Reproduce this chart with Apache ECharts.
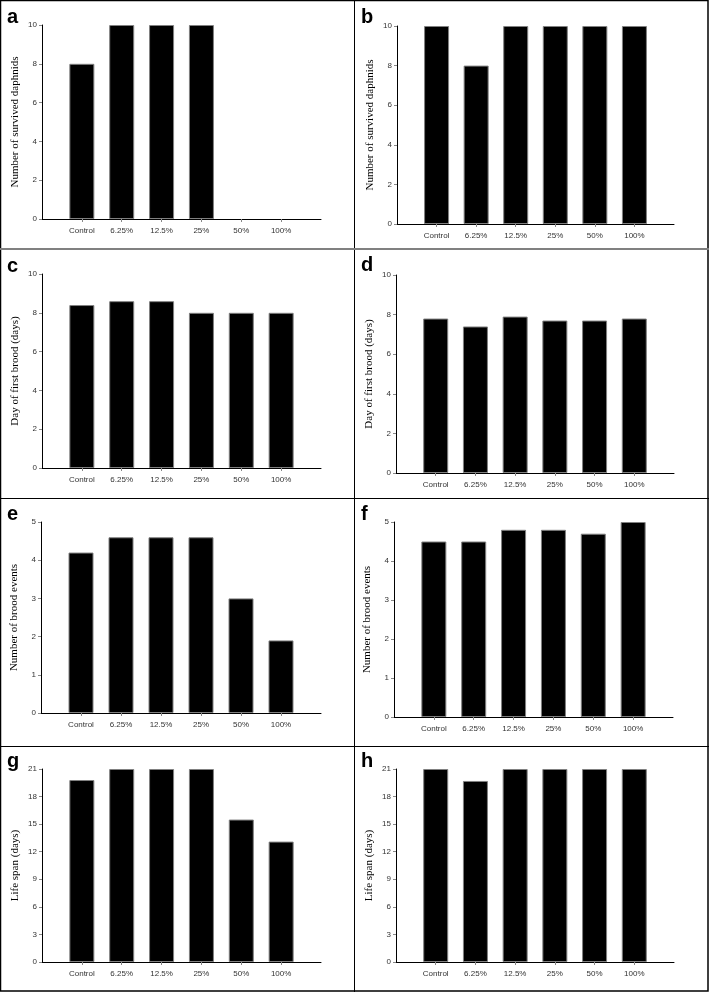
<!DOCTYPE html>
<html>
<head>
<meta charset="utf-8">
<script src="https://cdn.jsdelivr.net/npm/echarts@6/dist/echarts.min.js"></script>
<style>
  html, body { margin: 0; padding: 0; background: #fff; }
  #chart { width: 709px; height: 992px; }
</style>
</head>
<body>
<div id="chart"></div>
<script>
// categories (empty ends leave half-band padding like the original)
const categories = ["Control", "6.25%", "12.5%", "25%", "50%", "100%"];

const survivedA = [8, 10, 10, 10, 0, 0];
const survivedB = [10, 8, 10, 10, 10, 10];
const firstBroodC = [8.4, 8.6, 8.6, 8.0, 8.0, 8.0];
const firstBroodD = [7.8, 7.4, 7.9, 7.7, 7.7, 7.8];
const broodEventsE = [4.2, 4.6, 4.6, 4.6, 3.0, 1.9];
const broodEventsF = [4.5, 4.5, 4.8, 4.8, 4.7, 5.0];
const lifeSpanG = [19.8, 21, 21, 21, 15.5, 13.1];
const lifeSpanH = [21, 19.7, 21, 21, 21, 21];

const panels = [
  { letter: "a", data: survivedA, name: "Number of survived daphnids", max: 10, step: 2,
    grid: { left: 42, top: 25, width: 279, height: 194 }, lx: 7, ly: 15 },
  { letter: "b", data: survivedB, name: "Number of survived daphnids", max: 10, step: 2,
    grid: { left: 397, top: 26, width: 277, height: 198 }, lx: 361, ly: 15 },
  { letter: "c", data: firstBroodC, name: "Day of first brood (days)", max: 10, step: 2,
    grid: { left: 42, top: 274, width: 279, height: 194 }, lx: 7, ly: 264 },
  { letter: "d", data: firstBroodD, name: "Day of first brood (days)", max: 10, step: 2,
    grid: { left: 396, top: 275, width: 278, height: 198 }, lx: 361, ly: 263 },
  { letter: "e", data: broodEventsE, name: "Number of brood events", max: 5, step: 1,
    grid: { left: 41, top: 522, width: 280, height: 191 }, lx: 7, ly: 512 },
  { letter: "f", data: broodEventsF, name: "Number of brood events", max: 5, step: 1,
    grid: { left: 394, top: 522, width: 279, height: 195 }, lx: 361, ly: 512 },
  { letter: "g", data: lifeSpanG, name: "Life span (days)", max: 21, step: 3,
    grid: { left: 42, top: 769, width: 279, height: 193 }, lx: 7, ly: 759 },
  { letter: "h", data: lifeSpanH, name: "Life span (days)", max: 21, step: 3,
    grid: { left: 396, top: 769, width: 278, height: 193 }, lx: 361, ly: 759 }
];

const tickFont = "'Liberation Sans', Arial, sans-serif";
const nameFont = "'Liberation Serif', 'Times New Roman', serif";
const axisCats = [""].concat(categories, [""]);

const grids = [], xAxes = [], yAxes = [], series = [], graphics = [];

panels.forEach(function (p, i) {
  grids.push(p.grid);
  xAxes.push({
    type: "category",
    gridIndex: i,
    data: axisCats,
    boundaryGap: false,
    axisLine: { lineStyle: { color: "#000", width: 1 } },
    axisTick: {
      length: 3,
      interval: function (idx, val) { return val !== ""; },
      lineStyle: { color: "#888" }
    },
    axisLabel: { interval: 0, margin: 8, fontSize: 8, color: "#333", fontFamily: tickFont }
  });
  yAxes.push({
    type: "value",
    gridIndex: i,
    min: 0,
    max: p.max,
    interval: p.step,
    name: p.name,
    nameLocation: "middle",
    nameGap: 21,
    nameTextStyle: { fontFamily: nameFont, fontSize: 11, color: "#000" },
    splitLine: { show: false },
    axisLine: { show: true, lineStyle: { color: "#000", width: 1 } },
    axisTick: { show: true, length: 3, lineStyle: { color: "#888" } },
    axisLabel: { margin: 5, fontSize: 8, color: "#333", fontFamily: tickFont }
  });
  // zero-height bars get no grey outline
  const barData = p.data.map(function (v) {
    return v === 0 ? { value: v, itemStyle: { borderWidth: 0 } } : v;
  });
  series.push({
    type: "bar",
    xAxisIndex: i,
    yAxisIndex: i,
    barWidth: 25,
    data: [null].concat(barData, [null]),
    itemStyle: { color: "#000", borderColor: "#808080", borderWidth: 1 },
    silent: true
  });
  graphics.push({
    type: "text",
    left: p.lx,
    top: p.ly - 8,
    style: { text: p.letter, font: "bold 20px 'Liberation Sans', Arial, sans-serif", fill: "#000" }
  });
});

// panel frame and dividers
graphics.push(
  { type: "rect", shape: { x: 0.5, y: 0.5, width: 707.5, height: 990.5 },
    style: { fill: "none", stroke: "#000", lineWidth: 1.5 } },
  { type: "line", shape: { x1: 354.5, y1: 0, x2: 354.5, y2: 992 }, style: { stroke: "#000", lineWidth: 1 } },
  { type: "line", shape: { x1: 0, y1: 249, x2: 709, y2: 249 }, style: { stroke: "#808080", lineWidth: 2 } },
  { type: "line", shape: { x1: 0, y1: 498.5, x2: 709, y2: 498.5 }, style: { stroke: "#000", lineWidth: 1 } },
  { type: "line", shape: { x1: 0, y1: 746.5, x2: 709, y2: 746.5 }, style: { stroke: "#000", lineWidth: 1 } }
);

const chart = echarts.init(document.getElementById("chart"));
chart.setOption({
  animation: false,
  backgroundColor: "#fff",
  grid: grids,
  xAxis: xAxes,
  yAxis: yAxes,
  series: series,
  graphic: graphics
});
</script>
</body>
</html>
